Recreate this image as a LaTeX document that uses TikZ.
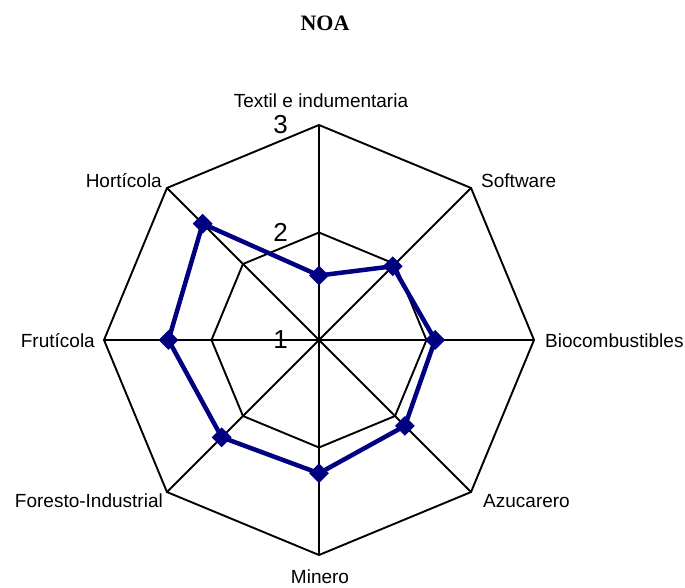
\documentclass[tikz,border=0pt]{standalone}
\usepackage{fontspec}
\setmainfont{Liberation Sans}
\newfontfamily\titlefont{Liberation Serif}
\usetikzlibrary{shapes.geometric}
\definecolor{navy}{RGB}{0,0,128}

\begin{document}
\begin{tikzpicture}[x=1pt,y=1pt,
        grid/.style={line width=1.9pt, line join=miter},
        lbl/.style={font=\fontsize{19}{21}\selectfont, inner sep=0pt},
        tick/.style={font=\fontsize{26}{28}\selectfont, inner sep=0pt, anchor=east},
        serie/.style={navy, line width=4.5pt, line join=round},
        dato/.style={diamond, fill=navy, minimum width=20pt, minimum height=20pt, inner sep=0pt}]
        \useasboundingbox (0,0) rectangle (685,-587);
        \node[font=\titlefont\bfseries\fontsize{22}{24}\selectfont, anchor=base, inner sep=0pt] (titulo) at (325,-30) {NOA};

        \begin{scope}[shift={(319,-340)}]
        % rayos y anillos
        \foreach \a in {0,45,...,315}
            \draw[grid] (0,0) -- (\a:215);
        \draw[grid] (0:215) \foreach \a in {45,90,...,315} { -- (\a:215) } -- cycle;
        \draw[grid] (0:107.5) \foreach \a in {45,90,...,315} { -- (\a:107.5) } -- cycle;

        \node[tick] (t3) at (-31,215) {3};
        \node[tick] (t2) at (-31,107.5) {2};
        \node[tick] (t1) at (-31,0) {1};

        \node[lbl, anchor=base] (textil) at (2,233) {Textil e indumentaria};
        \node[lbl, anchor=base west] (soft) at (162,153) {Software};
        \node[lbl, anchor=base west] (bio) at (226,-7) {Biocombustibles};
        \node[lbl, anchor=base west] (azuc) at (164,-167) {Azucarero};
        \node[lbl, anchor=base] (minero) at (1,-243) {Minero};
        \node[lbl, anchor=base east] (foresto) at (-156,-167) {Foresto-Industrial};
        \node[lbl, anchor=base east] (fruti) at (-224,-7) {Frutícola};
        \node[lbl, anchor=base east] (horti) at (-157,153) {Hortícola};

        % valores (escala 1 a 3)
        \coordinate (vtex) at (90:{0.60*107.5});
        \coordinate (vsof) at (45:{0.97*107.5});
        \coordinate (vbio) at (0:{1.08*107.5});
        \coordinate (vazu) at (-45:{1.13*107.5});
        \coordinate (vmin) at (-90:{1.24*107.5});
        \coordinate (vfor) at (-135:{1.28*107.5});
        \coordinate (vfru) at (180:{1.40*107.5});
        \coordinate (vhor) at (135:{1.53*107.5});

        \draw[serie] (vtex) -- (vsof) -- (vbio) -- (vazu) -- (vmin) -- (vfor) -- (vfru) -- (vhor) -- cycle;
        \foreach \p in {vtex,vsof,vbio,vazu,vmin,vfor,vfru,vhor}
            \node[dato] (m\p) at (\p) {};
        \end{scope}
\end{tikzpicture}
\end{document}
